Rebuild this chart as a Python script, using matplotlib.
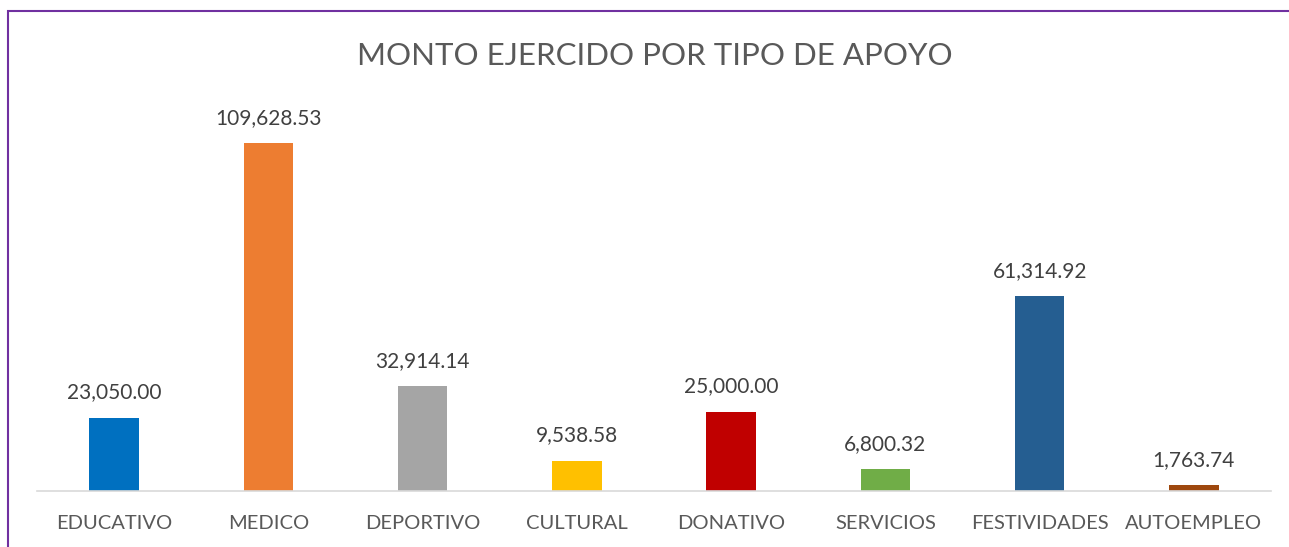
import matplotlib
matplotlib.use("Agg")
import matplotlib.pyplot as plt
from matplotlib.patches import Rectangle

# datos del grafico
categorias = ["EDUCATIVO", "MEDICO", "DEPORTIVO", "CULTURAL", "DONATIVO",
              "SERVICIOS", "FESTIVIDADES", "AUTOEMPLEO"]
montos = [23050.00, 109628.53, 32914.14, 9538.58, 25000.00, 6800.32, 61314.92, 1763.74]
colores = ["#0070C0", "#ED7D31", "#A5A5A5", "#FFC000", "#C00000",
           "#70AD47", "#255E91", "#9E480E"]

plt.rcParams['font.family'] = ['Lato', 'DejaVu Sans']
texto = "#595959"

fig = plt.figure(figsize=(12.89, 5.47), dpi=100)
fig.patch.set_facecolor("white")

# marco morado (se sale por la derecha y abajo)
fig.patches.append(Rectangle((8/1289, -0.1), 1.2, 1 - 11/547 + 0.1, transform=fig.transFigure,
                             fill=False, edgecolor="#7030A0", linewidth=1.5))

ax = fig.add_axes([37/1289, 1 - 491/547, 1234/1289, (491 - 110)/547])
x = range(len(categorias))
barras = ax.bar(x, montos, width=0.32, color=colores)
ax.set_xlim(-0.5, len(categorias) - 0.5)
ax.set_ylim(0, 120000)

for b, v in zip(barras, montos):
    ax.annotate(f"{v:,.2f}", (b.get_x() + b.get_width()/2, v), xytext=(0, 11),
                textcoords="offset points", ha="center", va="bottom", fontsize=15, color="#404040")

ax.set_xticks(list(x))
ax.set_xticklabels(categorias, fontsize=14.5, color=texto)
ax.tick_params(axis="x", length=0, pad=17)
ax.set_yticks([])
for s in ["top", "right", "left"]:
    ax.spines[s].set_visible(False)
ax.spines["bottom"].set_color("#D9D9D9")
ax.spines["bottom"].set_linewidth(1.2)

fig.text(655/1289, 1 - 56/547, "MONTO EJERCIDO POR TIPO DE APOYO", ha="center", va="center",
         fontsize=22.5, color=texto)

fig.savefig("out.png", dpi=100, facecolor="white")
